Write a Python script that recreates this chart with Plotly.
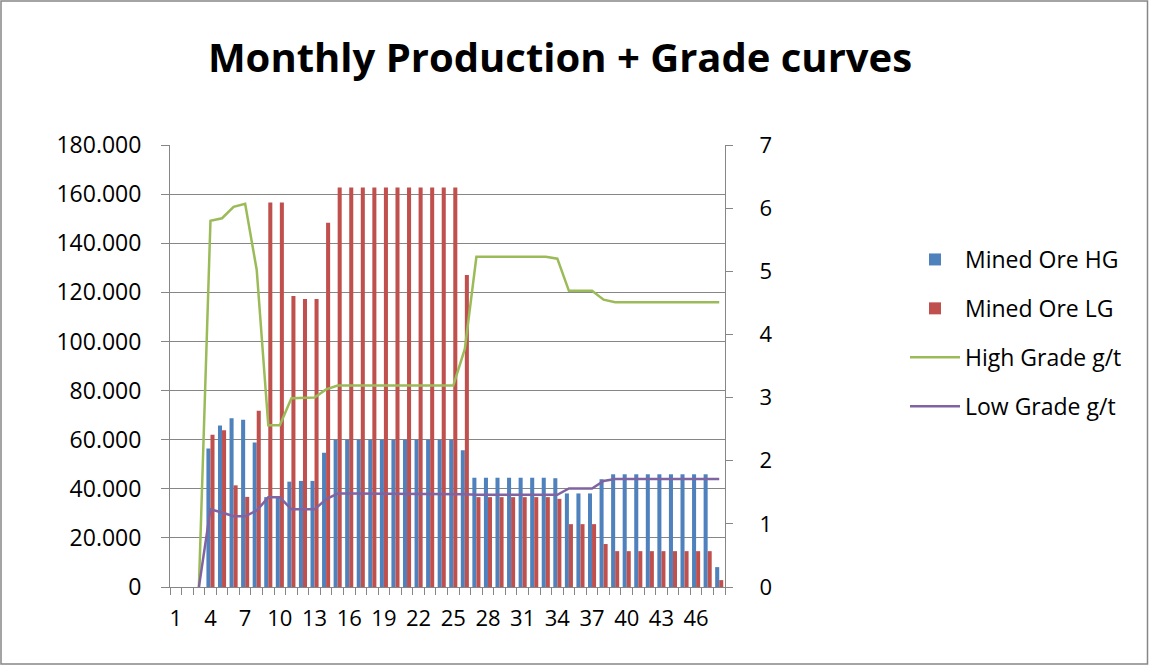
import plotly.graph_objects as go

months = list(range(1, 49))
tick_labels = [str(m) for m in range(1, 47, 3)]

mined_hg = [0, 0, 0, 56400, 65800, 68700, 68100, 58800, 36600, 36600,
            42900, 43200, 43200, 54700, 60000, 60000, 60000, 60000, 60000, 60000,
            60000, 60000, 60000, 60000, 60000, 55700, 44500, 44500, 44500, 44500,
            44500, 44500, 44500, 44300, 38100, 38100, 38100, 43900, 45900, 45900,
            45900, 45900, 45900, 45900, 45900, 45900, 45900, 8100]

mined_lg = [0, 0, 0, 62000, 63800, 41400, 36700, 71800, 156600, 156600,
            118500, 117300, 117300, 148300, 162700, 162700, 162700, 162700, 162700, 162700,
            162700, 162700, 162700, 162700, 162700, 127100, 36600, 36600, 36600, 36600,
            36600, 36600, 36600, 35900, 25600, 25600, 25600, 17500, 14600, 14600,
            14600, 14600, 14600, 14600, 14600, 14600, 14600, 2800]

high_grade = [None, None, 0, 5.80, 5.84, 6.02, 6.07, 5.02, 2.56, 2.56,
              2.99, 3.00, 3.00, 3.13, 3.19, 3.19, 3.19, 3.19, 3.19, 3.19,
              3.19, 3.19, 3.19, 3.19, 3.19, 3.77, 5.23, 5.23, 5.23, 5.23,
              5.23, 5.23, 5.23, 5.20, 4.69, 4.69, 4.69, 4.55, 4.51, 4.51,
              4.51, 4.51, 4.51, 4.51, 4.51, 4.51, 4.51, 4.51]

low_grade = [None, None, 0, 1.23, 1.18, 1.12, 1.12, 1.21, 1.42, 1.42,
             1.23, 1.23, 1.23, 1.39, 1.48, 1.48, 1.48, 1.48, 1.48, 1.48,
             1.48, 1.48, 1.48, 1.48, 1.48, 1.47, 1.46, 1.46, 1.46, 1.46,
             1.46, 1.46, 1.46, 1.46, 1.56, 1.56, 1.56, 1.68, 1.71, 1.71,
             1.71, 1.71, 1.71, 1.71, 1.71, 1.71, 1.71, 1.71]

BLUE = "#4F81BD"
RED = "#C0504D"
GREEN = "#9BBB59"
PURPLE = "#8064A2"
GRID = "#868686"
FONT = "Open Sans"

fig = go.Figure()
fig.add_trace(go.Bar(x=months, y=mined_hg, name="Mined Ore HG",
                     marker=dict(color=BLUE, line=dict(width=0)), legendgroup="a"))
fig.add_trace(go.Bar(x=months, y=mined_lg, name="Mined Ore LG",
                     marker=dict(color=RED, line=dict(width=0)), legendgroup="b"))
fig.add_trace(go.Scatter(x=months, y=high_grade, name="High Grade g/t", mode="lines",
                         line=dict(color=GREEN, width=2.5), yaxis="y2", legendgroup="c"))
fig.add_trace(go.Scatter(x=months, y=low_grade, name="Low Grade g/t", mode="lines",
                         line=dict(color=PURPLE, width=2.5), yaxis="y2", legendgroup="d"))

L, R, T, B = 170, 424, 145, 79
W, H = 1149, 666
pw, ph = W - L - R, H - T - B

def px(xp):
    return (xp - L) / pw

def py(yp):
    return (H - B - yp) / ph

fig.update_layout(
    width=W, height=H,
    margin=dict(l=L, r=R, t=T, b=B, autoexpand=False),
    paper_bgcolor="white", plot_bgcolor="white",
    separators=",.",
    font=dict(family=FONT, size=22, color="black"),
    barmode="group", bargap=0.3, bargroupgap=0,
    title=dict(text="<b>Monthly Production + Grade curves</b>",
               font=dict(family=FONT, size=40, color="black"),
               x=560 / W, xanchor="center", xref="container",
               y=1 - 58 / H, yanchor="middle", yref="container"),
    xaxis=dict(range=[0.5, 48.5], tickmode="array", tickvals=list(range(1, 47, 3)),
               ticktext=tick_labels, ticks="", showgrid=False, zeroline=False,
               showline=True, linecolor=GRID, linewidth=1,
               tickfont=dict(size=22), ticklabelstandoff=12,
               minor=dict(tickmode="linear", tick0=0.5, dtick=1, ticks="outside",
                          ticklen=7, tickcolor=GRID, tickwidth=1, showgrid=False)),
    yaxis=dict(range=[0, 180000], dtick=20000, tickformat=",", showgrid=True,
               gridcolor=GRID, gridwidth=1, zeroline=False, showline=True,
               linecolor=GRID, linewidth=1, ticks="outside", ticklen=8,
               tickcolor=GRID, tickfont=dict(size=23), ticklabelstandoff=15),
    yaxis2=dict(range=[0, 7], dtick=1, overlaying="y", side="right", showgrid=False,
                zeroline=False, showline=True, linecolor=GRID, linewidth=1,
                ticks="outside", ticklen=7, tickcolor=GRID, tickfont=dict(size=22),
                ticklabelstandoff=22),
    legend=dict(x=px(905), y=py(238), xanchor="left", yanchor="top",
                font=dict(family=FONT, size=23), tracegroupgap=16,
                itemwidth=50, bgcolor="rgba(0,0,0,0)", traceorder="grouped"),
    showlegend=True,
    shapes=[dict(type="rect", xref="paper", yref="paper",
                 x0=px(1), x1=px(1147.5), y0=py(1), y1=py(664),
                 line=dict(color=GRID, width=1.5), fillcolor="rgba(0,0,0,0)", layer="below")],
)

fig.write_html("out.html", config={"displayModeBar": False},
               post_script="document.body.style.margin='0px';document.body.style.overflow='hidden';")
